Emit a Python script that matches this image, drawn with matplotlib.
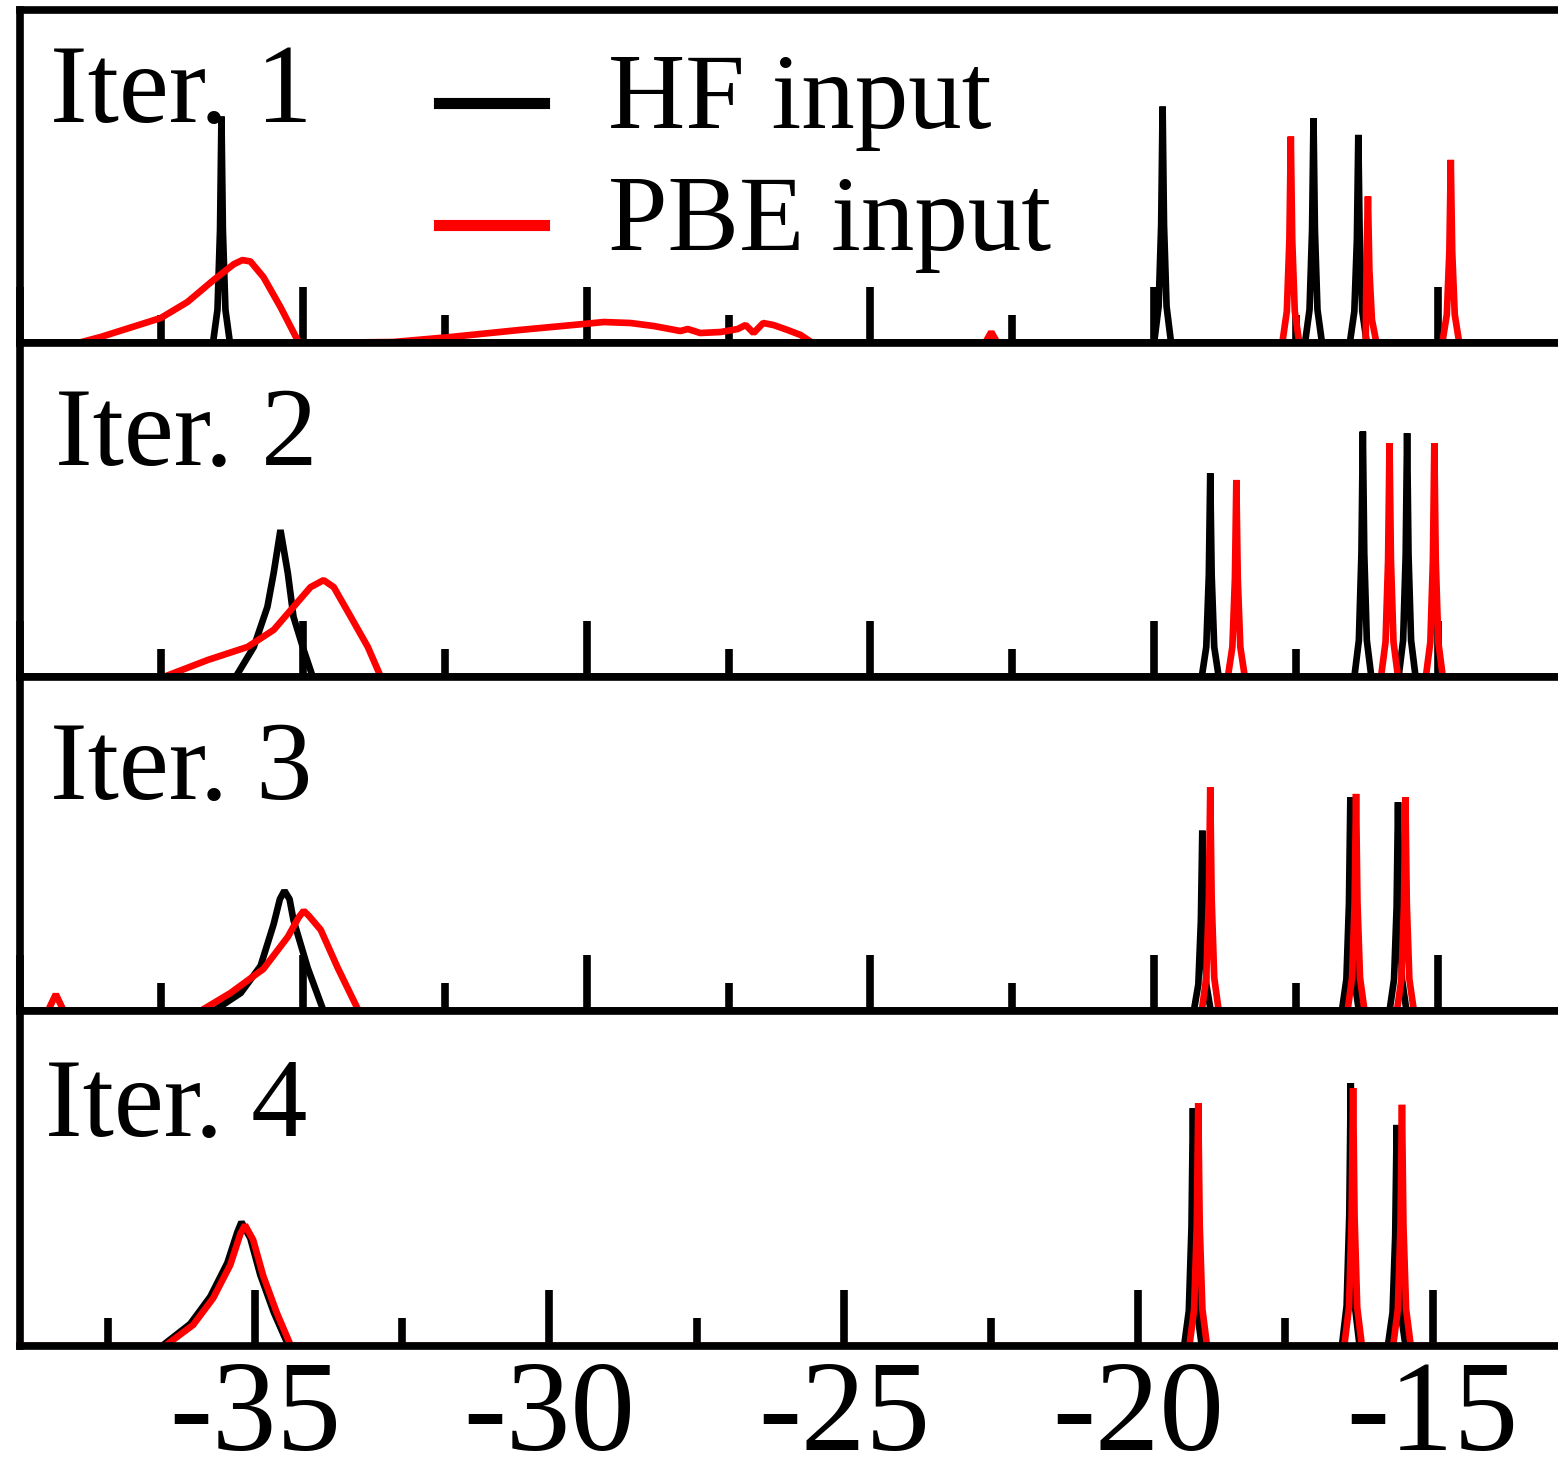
import matplotlib
matplotlib.use("Agg")
import matplotlib.pyplot as plt
from matplotlib.ticker import MultipleLocator

plt.rcParams['font.family'] = ['Liberation Serif', 'DejaVu Serif']
plt.rcParams['axes.unicode_minus'] = False

# ---- spectra: energy (eV) and intensity for each iteration ----
hf_e_1 = [-40.0, -36.59, -36.51, -36.465, -36.44, -36.415, -36.37, -36.29,
          -20.00, -19.92, -19.875, -19.85, -19.825, -19.78, -19.70,
          -17.34, -17.26, -17.215, -17.19, -17.165, -17.12, -17.04,
          -16.55, -16.47, -16.425, -16.40, -16.375, -16.33, -16.25, -12.5]
hf_i_1 = [0, 0, 0.10, 0.34, 0.68, 0.34, 0.10, 0,
          0, 0.11, 0.355, 0.71, 0.355, 0.11, 0,
          0, 0.10, 0.34, 0.675, 0.34, 0.10, 0,
          0, 0.095, 0.31, 0.625, 0.31, 0.095, 0, 0]

pbe_e_1 = [-40.0, -38.97, -38.57, -37.51, -37.04, -36.58, -36.22, -36.07, -35.93, -35.70, -35.40, -35.10, -35.04,
           -33.41, -32.40, -31.19, -30.06, -29.70, -29.23, -28.82, -28.35, -28.22, -28.00, -27.64, -27.34,
           -27.20, -27.06, -26.89, -26.71, -26.46, -26.23, -26.02,
           -22.98, -22.87, -22.76,
           -17.74, -17.66, -17.615, -17.59, -17.565, -17.52, -17.44,
           -16.27, -16.265, -16.25, -16.23, -16.205, -16.16, -16.08,
           -14.92, -14.84, -14.795, -14.77, -14.745, -14.70, -14.62, -12.5]
pbe_i_1 = [0, 0, 0.018, 0.075, 0.123, 0.189, 0.237, 0.249, 0.245, 0.198, 0.108, 0.009, 0,
           0.003, 0.018, 0.039, 0.057, 0.063, 0.060, 0.051, 0.036, 0.042, 0.030, 0.033, 0.042,
           0.054, 0.030, 0.060, 0.054, 0.039, 0.024, 0.0,
           0, 0.033, 0,
           0, 0.095, 0.31, 0.62, 0.31, 0.095, 0,
           0, 0.10, 0.30, 0.44, 0.22, 0.07, 0,
           0, 0.085, 0.275, 0.55, 0.275, 0.085, 0, 0]

hf_e_2 = [-40.0, -36.19, -35.87, -35.63, -35.52, -35.40, -35.27, -35.17, -34.99, -34.83,
          -19.16, -19.08, -19.035, -19.01, -18.985, -18.94, -18.86,
          -16.47, -16.39, -16.345, -16.32, -16.295, -16.25, -16.17,
          -15.69, -15.61, -15.565, -15.54, -15.515, -15.47, -15.39, -12.5]
hf_i_2 = [0, 0, 0.090, 0.210, 0.311, 0.440, 0.311, 0.180, 0.081, 0,
          0, 0.09, 0.305, 0.61, 0.305, 0.09, 0,
          0, 0.11, 0.37, 0.735, 0.37, 0.11, 0,
          0, 0.11, 0.365, 0.73, 0.365, 0.11, 0, 0]

pbe_e_2 = [-40.0, -37.46, -36.68, -35.98, -35.52, -35.17, -34.87, -34.64, -34.46, -34.16, -33.86, -33.63,
           -18.70, -18.62, -18.575, -18.55, -18.525, -18.48, -18.40,
           -16.00, -15.92, -15.875, -15.85, -15.825, -15.78, -15.70,
           -15.21, -15.13, -15.085, -15.06, -15.035, -14.99, -14.91, -12.5]
pbe_i_2 = [0, 0, 0.051, 0.090, 0.141, 0.210, 0.269, 0.290, 0.269, 0.180, 0.090, 0.0,
           0, 0.09, 0.295, 0.59, 0.295, 0.09, 0,
           0, 0.105, 0.35, 0.70, 0.35, 0.105, 0,
           0, 0.105, 0.35, 0.70, 0.35, 0.105, 0, 0]

hf_e_3 = [-40.0, -36.58, -36.10, -35.75, -35.52, -35.41, -35.33, -35.24, -35.17, -34.92, -34.64,
          -19.30, -19.22, -19.175, -19.15, -19.125, -19.08, -19.00,
          -16.69, -16.61, -16.565, -16.54, -16.515, -16.47, -16.39,
          -15.85, -15.77, -15.725, -15.70, -15.675, -15.63, -15.55, -12.5]
hf_i_3 = [0, 0, 0.054, 0.135, 0.26, 0.335, 0.36, 0.335, 0.272, 0.129, 0,
          0, 0.08, 0.27, 0.54, 0.27, 0.08, 0,
          0, 0.095, 0.32, 0.64, 0.32, 0.095, 0,
          0, 0.095, 0.31, 0.625, 0.31, 0.095, 0, 0]

pbe_e_3 = [-40.0, -39.50, -39.36, -39.22,
           -36.81, -36.28, -35.70, -35.27, -35.08, -34.99, -34.90, -34.69, -34.39, -34.02,
           -19.16, -19.08, -19.035, -19.01, -18.985, -18.94, -18.86,
           -16.59, -16.51, -16.465, -16.44, -16.415, -16.37, -16.29,
           -15.72, -15.64, -15.595, -15.57, -15.545, -15.50, -15.42, -12.5]
pbe_i_3 = [0, 0, 0.05, 0,
           0, 0.054, 0.126, 0.222, 0.28, 0.30, 0.285, 0.243, 0.129, 0,
           0, 0.10, 0.335, 0.67, 0.335, 0.10, 0,
           0, 0.10, 0.325, 0.65, 0.325, 0.10, 0,
           0, 0.095, 0.32, 0.64, 0.32, 0.095, 0, 0]

hf_e_4 = [-39.0, -36.58, -36.10, -35.76, -35.47, -35.30, -35.23, -35.08, -34.91, -34.68, -34.43,
          -19.22, -19.14, -19.095, -19.07, -19.045, -19.00, -18.92,
          -16.54, -16.46, -16.415, -16.39, -16.365, -16.32, -16.24,
          -15.76, -15.68, -15.635, -15.61, -15.585, -15.54, -15.46, -12.5]
hf_i_4 = [0, 0, 0.066, 0.147, 0.248, 0.34, 0.37, 0.322, 0.212, 0.10, 0,
          0, 0.105, 0.355, 0.71, 0.355, 0.105, 0,
          0, 0.12, 0.39, 0.785, 0.39, 0.12, 0,
          0, 0.10, 0.33, 0.66, 0.33, 0.10, 0, 0]

pbe_e_4 = [-39.0, -36.53, -36.05, -35.71, -35.42, -35.25, -35.17, -35.03, -34.86, -34.63, -34.39,
           -19.13, -19.05, -19.005, -18.98, -18.955, -18.91, -18.83,
           -16.50, -16.42, -16.375, -16.35, -16.325, -16.28, -16.20,
           -15.67, -15.59, -15.545, -15.52, -15.495, -15.45, -15.37, -12.5]
pbe_i_4 = [0, 0, 0.063, 0.143, 0.242, 0.334, 0.361, 0.316, 0.209, 0.099, 0,
           0, 0.11, 0.36, 0.725, 0.36, 0.11, 0,
           0, 0.115, 0.385, 0.77, 0.385, 0.115, 0,
           0, 0.11, 0.36, 0.72, 0.36, 0.11, 0, 0]

panel_titles = ['Iter. 1', 'Iter. 2', 'Iter. 3', 'Iter. 4']
series_labels = ['HF input', 'PBE input']
tick_values = [-35, -30, -25, -20, -15]
tick_labels = ['-35', '-30', '-25', '-20', '-15']

hf_sets = [(hf_e_1, hf_i_1), (hf_e_2, hf_i_2), (hf_e_3, hf_i_3), (hf_e_4, hf_i_4)]
pbe_sets = [(pbe_e_1, pbe_i_1), (pbe_e_2, pbe_i_2), (pbe_e_3, pbe_i_3), (pbe_e_4, pbe_i_4)]
x_ranges = [(-40.0, -12.88), (-40.0, -12.88), (-40.0, -12.88), (-39.0, -12.87)]

# ---- layout (figure fractions) ----
W, H = 1558, 1467
fig = plt.figure(figsize=(W / 100, H / 100), dpi=100)
edges = [(10, 343), (343, 677), (677, 1011), (1011, 1346)]
left = 19.5 / W

title_pos = [(0.0198, 0.664), (0.023, 0.635), (0.0198, 0.635), (0.0166, 0.627)]

axes = []
for k, (top_px, bot_px) in enumerate(edges):
    ax = fig.add_axes([left, 1 - bot_px / H, 1 - left, (bot_px - top_px) / H])
    axes.append(ax)
    e, i = hf_sets[k]
    ax.plot(e, i, color='black', lw=4.8, solid_joinstyle='bevel', label=series_labels[0])
    e, i = pbe_sets[k]
    ax.plot(e, i, color='#ff0000', lw=4.8, solid_joinstyle='bevel', label=series_labels[1])
    ax.set_xlim(*x_ranges[k])
    ax.set_ylim(0, 1)
    ax.set_yticks([])
    ax.spines['right'].set_visible(False)
    for s in ('left', 'top', 'bottom'):
        ax.spines[s].set_linewidth(5.5)
    ax.xaxis.set_major_locator(MultipleLocator(5))
    ax.xaxis.set_minor_locator(MultipleLocator(2.5))
    ax.tick_params(axis='x', which='major', direction='in', length=40, width=5.5,
                   top=False, bottom=True)
    ax.tick_params(axis='x', which='minor', direction='in', length=20, width=5.5,
                   top=False, bottom=True)
    if k < 3:
        ax.tick_params(axis='x', which='both', labelbottom=False)
    else:
        ax.set_xticks(tick_values)
        ax.set_xticklabels(tick_labels)
        ax.tick_params(axis='x', which='major', labelsize=93, pad=10)
    tx, ty = title_pos[k]
    ax.text(tx, ty, panel_titles[k], transform=ax.transAxes, fontsize=81,
            ha='left', va='baseline')

leg = axes[0].legend(loc='upper left', bbox_to_anchor=(0.2725, 0.87), frameon=False,
                     fontsize=77, handlelength=0.98, handletextpad=0.6,
                     labelspacing=0.22, borderpad=0, borderaxespad=0)
for h in leg.get_lines():
    h.set_linewidth(8)
    h.set_ydata([y - 9 for y in h.get_ydata()])

fig.savefig('out.png', dpi=100)
